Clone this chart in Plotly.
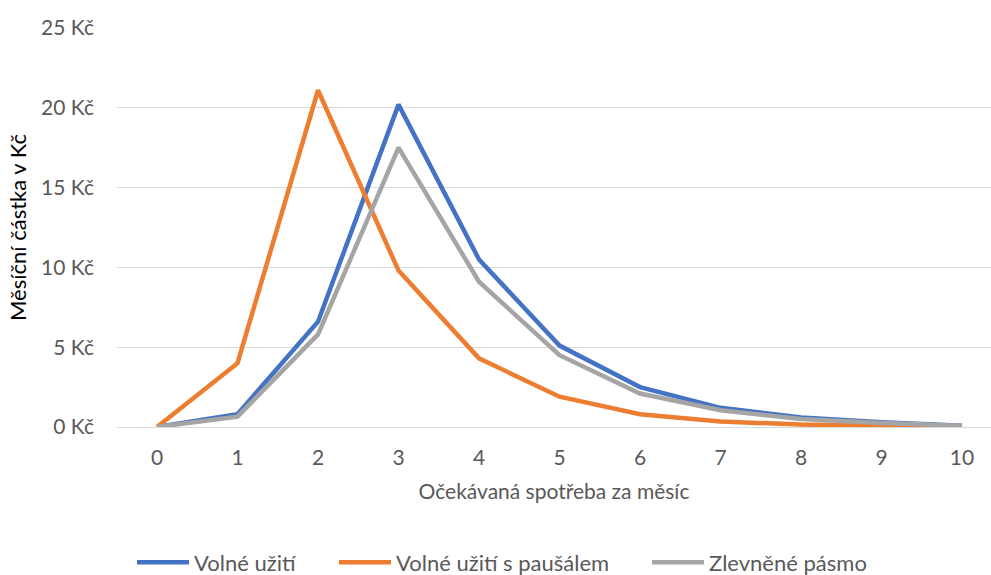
import plotly.graph_objects as go

x_vals = [0, 1, 2, 3, 4, 5, 6, 7, 8, 9, 10]
volne = [0, 0.8, 6.6, 20.2, 10.5, 5.1, 2.5, 1.2, 0.6, 0.3, 0.08]
pausal = [0, 4.0, 21.1, 9.8, 4.3, 1.9, 0.8, 0.35, 0.15, 0.05, 0.02]
zlevnene = [0, 0.65, 5.8, 17.5, 9.1, 4.5, 2.1, 1.05, 0.5, 0.25, 0.08]
names = ["Volné užití", "Volné užití s paušálem", "Zlevněné pásmo"]
colors = ["#4472C4", "#ED7D31", "#A5A5A5"]
y_ticks = [0, 5, 10, 15, 20, 25]
y_labels = [f"{v} Kč" for v in y_ticks]

legend_ids = ["legend", "legend2", "legend3"]
legend_left_px = [140, 342, 655]

fig = go.Figure()
for name, ys, c, lid in zip(names, [volne, pausal, zlevnene], colors, legend_ids):
    fig.add_trace(go.Scatter(x=x_vals, y=ys, name=name, mode="lines",
                             legend=lid, line=dict(color=c, width=4.5)))

font = "Lato, 'Open Sans', sans-serif"
legend_common = dict(orientation="h", xref="container", yref="container",
                     y=0.022, xanchor="left", yanchor="middle",
                     font=dict(size=22, color="#595959"), itemwidth=52,
                     bgcolor="rgba(0,0,0,0)")
legends = {}
for lid, px in zip(legend_ids, legend_left_px):
    legends[lid] = dict(legend_common, x=(px - 8) / 991)

fig.update_layout(
    width=991, height=575,
    margin=dict(l=117, r=0, t=28, b=148),
    plot_bgcolor="white", paper_bgcolor="white",
    font=dict(family=font, size=21, color="#595959"),
    xaxis=dict(range=[-0.497, 10.36], tickvals=x_vals, showgrid=False,
               zeroline=False, showline=False, ticks="", ticklabelstandoff=16,
               tickfont=dict(size=21, color="#595959"),
               title=dict(text="Očekávaná spotřeba za měsíc", standoff=16,
                          font=dict(size=21, color="#595959"))),
    yaxis=dict(range=[0, 25], tickvals=y_ticks, ticktext=y_labels,
               showgrid=True, gridcolor="#D9D9D9", gridwidth=1.3,
               zeroline=True, zerolinecolor="#D9D9D9", zerolinewidth=1.3,
               showline=False, ticks="", ticklabelstandoff=22,
               tickfont=dict(size=21, color="#595959"),
               title=dict(text="Měsíční částka v Kč", standoff=8,
                          font=dict(size=22, color="#000000"))),
    showlegend=True,
    **legends,
)

fig.write_html("out.html")
